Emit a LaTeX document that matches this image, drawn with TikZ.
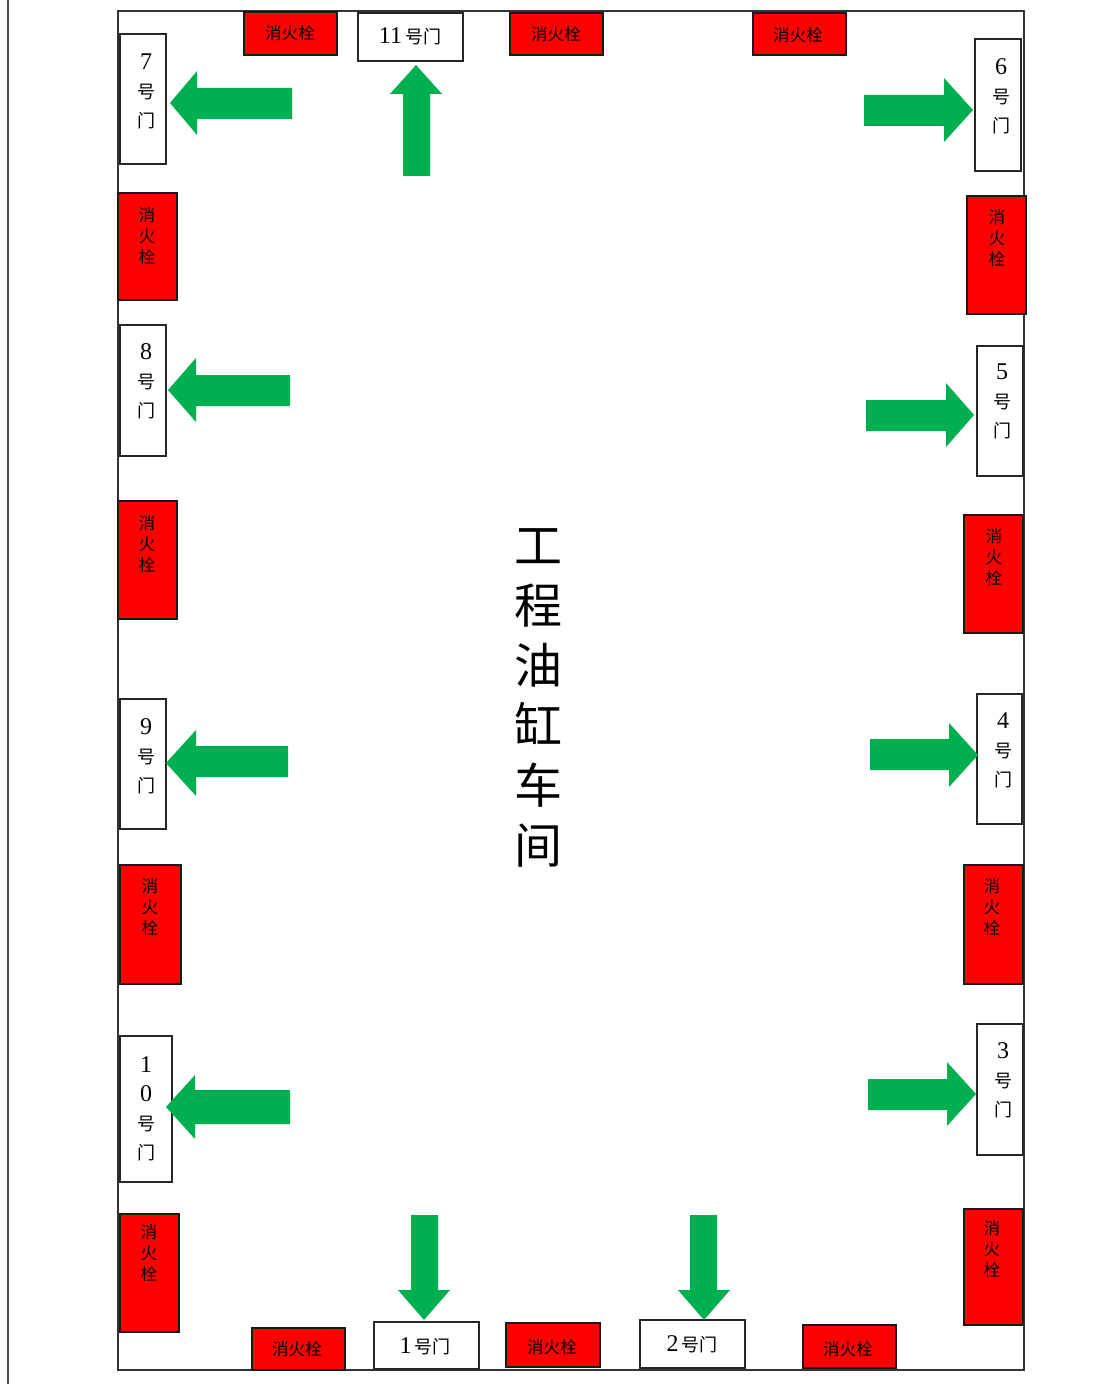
\documentclass[tikz,border=0pt]{standalone}
\usepackage{fontspec}
\setmainfont{Liberation Serif}
\newfontfamily\cjk{Noto Sans CJK SC}
\definecolor{arrowgreen}{RGB}{0,176,80}
\tikzset{
  x=0.75pt,y=-0.75pt,
  framebox/.style={draw=black!80,line width=1.2pt,fill=none},
  doorbox/.style={draw=black!85,line width=1.3pt,fill=white},
  hydrantbox/.style={draw=black!90,line width=1.3pt,fill=red},
  doortext/.style={inner sep=0pt,align=center,font=\fontsize{13.5}{21.8}\selectfont},
  hydranttext/.style={inner sep=0pt,align=center,text=black,font=\cjk\fontsize{12.5}{15.6}\selectfont},
  flowarrow/.style={fill=arrowgreen,draw=none},
}
\newcommand{\hzarrow}[7]{% tail x, base x, tip x, centre y, shaft top, shaft bottom, head half
  \fill[flowarrow] (#1,#5) -- (#2,#5) -- ({#2},{#4-#7}) -- (#3,#4) -- ({#2},{#4+#7}) -- (#2,#6) -- (#1,#6) -- cycle;
}
\newcommand{\vtarrow}[7]{% tail y, base y, tip y, centre x, shaft left, shaft right, head half
  \fill[flowarrow] (#5,#1) -- (#5,#2) -- ({#4-#7},#2) -- (#4,#3) -- ({#4+#7},#2) -- (#6,#2) -- (#6,#1) -- cycle;
}
\newcommand{\dg}[1]{{\fontsize{18}{21.8}\selectfont #1}}
\newcommand{\hao}{{\cjk 号}}
\newcommand{\men}{{\cjk 门}}
\newcommand{\xhs}{消\\火\\栓}
\begin{document}
\begin{tikzpicture}
\useasboundingbox (0,0) rectangle (1092,1384);
\draw[draw=black!70,line width=1.2pt] (8,0) -- (8,1384);
\draw[framebox] (118,11) rectangle (1024,1370);
% doors, vertical
\draw[doorbox] (120,34) rectangle (166,164);
\node[doortext] (d7) at (146,91) {\dg{7}\\\hao\\\men};
\draw[doorbox] (120,325) rectangle (166,456);
\node[doortext] (d8) at (146,381) {\dg{8}\\\hao\\\men};
\draw[doorbox] (120,699) rectangle (166,829);
\node[doortext] (d9) at (146,756) {\dg{9}\\\hao\\\men};
\draw[doorbox] (120,1036) rectangle (172,1182);
\node[doortext] (d10) at (146,1109) {\dg{1}\\\dg{0}\\\hao\\\men};
\draw[doorbox] (975,39) rectangle (1021,171);
\node[doortext] (d6) at (1001,96) {\dg{6}\\\hao\\\men};
\draw[doorbox] (977,346) rectangle (1023,476);
\node[doortext] (d5) at (1002,401) {\dg{5}\\\hao\\\men};
\draw[doorbox] (977,694) rectangle (1022,824);
\node[doortext] (d4) at (1003,750) {\dg{4}\\\hao\\\men};
\draw[doorbox] (977,1024) rectangle (1023,1155);
\node[doortext] (d3) at (1003,1080) {\dg{3}\\\hao\\\men};
% doors, horizontal
\draw[doorbox] (358,13) rectangle (463,61);
\node[doortext] (d11) at (410,36) {\dg{11}\,\hao\men};
\draw[doorbox] (374,1322) rectangle (479,1369);
\node[doortext] (d1) at (425,1346) {\dg{1}\,\hao\men};
\draw[doorbox] (640,1320) rectangle (745,1368);
\node[doortext] (d2) at (692,1344) {\dg{2}\,\hao\men};
% hydrants, horizontal
\draw[hydrantbox] (244,12) rectangle (337,55);
\node[hydranttext] (h1) at (290,33) {消火栓};
\draw[hydrantbox] (510,13) rectangle (603,55);
\node[hydranttext] (h2) at (556,34) {消火栓};
\draw[hydrantbox] (753,13) rectangle (846,55);
\node[hydranttext] (h3) at (798,35) {消火栓};
\draw[hydrantbox] (252,1328) rectangle (345,1370);
\node[hydranttext] (h4) at (297,1349) {消火栓};
\draw[hydrantbox] (506,1323) rectangle (600,1367);
\node[hydranttext] (h5) at (552,1347) {消火栓};
\draw[hydrantbox] (803,1325) rectangle (896,1368);
\node[hydranttext] (h6) at (848,1349) {消火栓};
% hydrants, vertical
\draw[hydrantbox] (118,193) rectangle (177,300);
\node[hydranttext] (h7) at (147,236) {\xhs};
\draw[hydrantbox] (118,501) rectangle (177,619);
\node[hydranttext] (h8) at (147,544) {\xhs};
\draw[hydrantbox] (120,865) rectangle (181,984);
\node[hydranttext] (h9) at (150,907) {\xhs};
\draw[hydrantbox] (120,1214) rectangle (179,1332);
\node[hydranttext] (h10) at (149,1253) {\xhs};
\draw[hydrantbox] (967,196) rectangle (1026,314);
\node[hydranttext] (h11) at (997,238) {\xhs};
\draw[hydrantbox] (964,515) rectangle (1023,633);
\node[hydranttext] (h12) at (994,557) {\xhs};
\draw[hydrantbox] (964,865) rectangle (1023,984);
\node[hydranttext] (h13) at (992,907) {\xhs};
\draw[hydrantbox] (964,1209) rectangle (1023,1325);
\node[hydranttext] (h14) at (992,1249) {\xhs};
% arrows
\hzarrow{292}{197}{170}{103}{88}{119}{32}
\hzarrow{290}{196}{168}{390}{375}{406}{32}
\hzarrow{288}{196}{166}{763}{746}{777}{33}
\hzarrow{290}{195}{166}{1107}{1090}{1124}{32}
\hzarrow{864}{944}{973}{110}{95}{126}{32}
\hzarrow{866}{946}{974}{415}{400}{431}{32}
\hzarrow{870}{949}{978}{755}{739}{770}{32}
\hzarrow{868}{947}{976}{1094}{1079}{1110}{32}
\vtarrow{176}{94}{65}{416}{403}{430}{26}
\vtarrow{1215}{1290}{1320}{424}{411}{438}{26}
\vtarrow{1215}{1290}{1320}{704}{690}{717}{26}
% title
\node[inner sep=0pt,align=center,font=\cjk\fontsize{36}{45}\selectfont] (title) at (538,698) {工\\程\\油\\缸\\车\\间};
\end{tikzpicture}
\end{document}
